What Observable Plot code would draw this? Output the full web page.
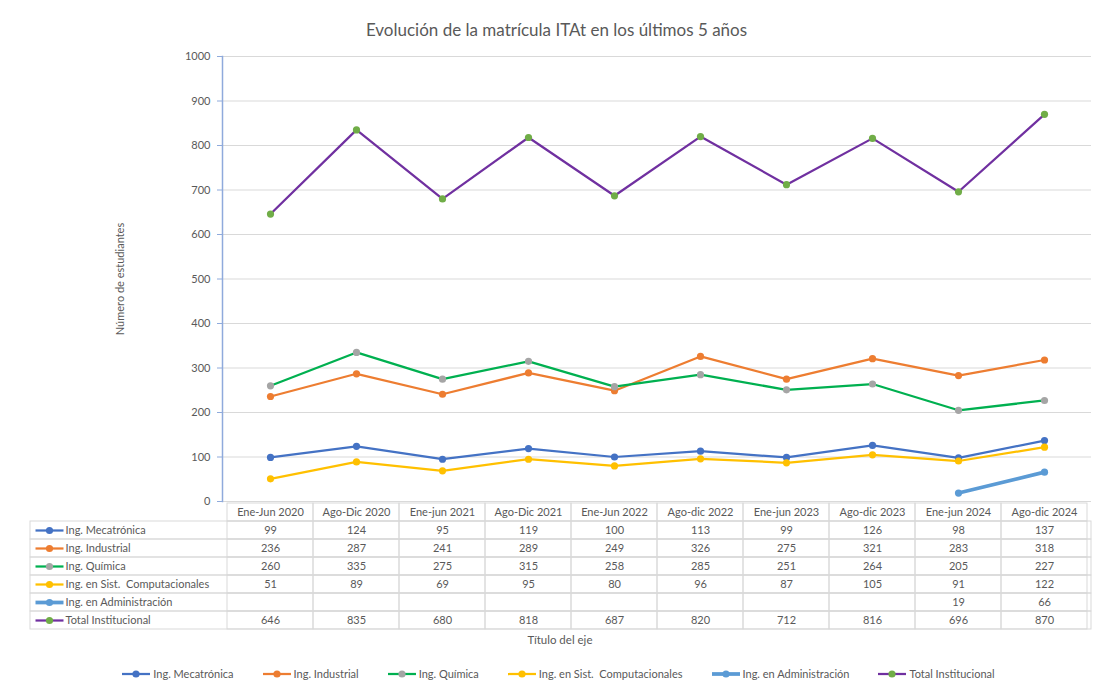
<!DOCTYPE html>
<html>
<head>
<meta charset="utf-8">
<script src="https://cdn.jsdelivr.net/npm/d3@7"></script>
<script src="https://cdn.jsdelivr.net/npm/@observablehq/plot@0.6"></script>
<style>
  html, body { margin: 0; padding: 0; background: #fff; }
  #wrap { position: relative; width: 1093px; height: 690px; background: #fff; font-family: Lato, "Open Sans", sans-serif; color: #595959; overflow: hidden; }
  #title { position: absolute; top: 19px; left: 0; width: 1113px; text-align: center; font-size: 17px; color: #595959; }
  #chart { position: absolute; top: 40px; left: 0; }
  #table { position: absolute; top: 501px; left: 0; }
  #xtitle { position: absolute; top: 633px; left: 0; width: 1120px; text-align: center; font-size: 11.5px; }
  #legend { position: absolute; top: 667px; left: 0; width: 1116px; display: flex; justify-content: center; gap: 28px; font-size: 11px; }
  #legend .item { display: flex; align-items: center; gap: 2px; white-space: pre; }
</style>
</head>
<body>
<div id="wrap">
  <div id="title">Evolución de la matrícula ITAt en los últimos 5 años</div>
  <div id="chart"></div>
  <div id="table"></div>
  <div id="xtitle">Título del eje</div>
  <div id="legend"></div>
</div>
<script>
const periods = ["Ene-Jun 2020", "Ago-Dic 2020", "Ene-jun 2021", "Ago-Dic 2021", "Ene-Jun 2022", "Ago-dic 2022", "Ene-jun 2023", "Ago-dic 2023", "Ene-jun 2024", "Ago-dic 2024"];
const seriesNames = ["Ing. Mecatrónica", "Ing. Industrial", "Ing. Química", "Ing. en Sist.  Computacionales", "Ing. en Administración", "Total Institucional"];
const mecatronica = [99, 124, 95, 119, 100, 113, 99, 126, 98, 137];
const industrial = [236, 287, 241, 289, 249, 326, 275, 321, 283, 318];
const quimica = [260, 335, 275, 315, 258, 285, 251, 264, 205, 227];
const sistemas = [51, 89, 69, 95, 80, 96, 87, 105, 91, 122];
const administracion = [null, null, null, null, null, null, null, null, 19, 66];
const total = [646, 835, 680, 818, 687, 820, 712, 816, 696, 870];
const lineColors = ["#4472C4", "#ED7D31", "#00B050", "#FFC000", "#5B9BD5", "#7030A0"];
const markerColors = ["#4472C4", "#ED7D31", "#A5A5A5", "#FFC000", "#5B9BD5", "#70AD47"];
const lineWidths = [2.25, 2.25, 2.25, 2.25, 3.75, 2.25];
const yTicks = [0, 100, 200, 300, 400, 500, 600, 700, 800, 900, 1000];

const values = [mecatronica, industrial, quimica, sistemas, administracion, total];
const series = seriesNames.map((name, i) => ({
  name, lineColor: lineColors[i], markerColor: markerColors[i], width: lineWidths[i],
  points: periods.map((p, j) => ({series: name, period: p, value: values[i][j]}))
}));
const allPoints = series.flatMap(s => s.points);
const FONT = "Lato, 'Open Sans', sans-serif";

// Main chart
const chart = Plot.plot({
  width: 1093, height: 470,
  marginLeft: 222, marginRight: 2, marginTop: 16, marginBottom: 9,
  style: {fontFamily: FONT, fontSize: "11px", color: "#595959", background: "transparent"},
  x: {type: "point", domain: periods, padding: 0.5, axis: null},
  y: {domain: [0, 1000], axis: null},
  marks: [
    Plot.gridY(yTicks, {stroke: "#D9D9D9", strokeOpacity: 1, strokeWidth: 1}),
    Plot.axisY(yTicks, {tickSize: 5, tickPadding: 7, stroke: "#8FAADC", fill: "#595959", fontSize: 11,
      tickFormat: d => String(d),
      label: "Número de estudiantes", labelAnchor: "center", labelArrow: "none", labelOffset: 106}),
    Plot.frame({anchor: "left", stroke: "#8FAADC", strokeWidth: 1.5}),
    ...series.map(s => Plot.line(s.points.filter(d => d.value != null), {
      x: "period", y: "value", stroke: s.lineColor, strokeWidth: s.width, curve: "linear"
    })),
    ...series.map(s => Plot.dot(s.points.filter(d => d.value != null), {
      x: "period", y: "value", fill: s.markerColor, r: 3.6, stroke: "none"
    }))
  ]
});
document.getElementById("chart").append(chart);

// Data table
const rowKeys = ["__header", ...seriesNames];
const cellGrid = rowKeys.flatMap(r => periods.map(p => ({row: r, period: p})));
const lineSymbol = {draw(ctx) { ctx.moveTo(-14, 0); ctx.lineTo(14, 0); }};
const table = Plot.plot({
  width: 1093, height: 131,
  marginLeft: 30, marginRight: 2, marginTop: 0, marginBottom: 0,
  style: {fontFamily: FONT, fontSize: "11px", color: "#595959", background: "transparent"},
  x: {type: "band", domain: periods, range: [222, 1091], padding: 0, axis: null},
  y: {type: "band", domain: rowKeys, range: [0.5, 130], padding: 0, axis: null},
  color: {type: "identity"},
  marks: [
    Plot.cell(seriesNames, {y: d => d, stroke: "#D9D9D9", fill: "none", strokeWidth: 1}),
    Plot.cell(cellGrid, {x: "period", y: "row", stroke: "#D9D9D9", fill: "none", strokeWidth: 1}),
    Plot.text(periods, {x: d => d, y: () => "__header", text: d => d, fill: "#595959", fontSize: 11}),
    Plot.text(allPoints.filter(d => d.value != null), {x: "period", y: "series", text: d => String(d.value), fill: "#595959", fontSize: 11}),
    Plot.dot(series, {y: "name", frameAnchor: "left", dx: 19, symbol: lineSymbol, r: 4, stroke: "lineColor", strokeWidth: "width", fill: "none"}),
    Plot.dot(series, {y: "name", frameAnchor: "left", dx: 19, r: 3.6, fill: "markerColor", stroke: "none"}),
    Plot.text(series, {y: "name", frameAnchor: "left", dx: 35, textAnchor: "start", text: "name", fill: "#595959", fontSize: 11})
  ]
});
document.getElementById("table").append(table);

// Legend
const legend = document.getElementById("legend");
series.forEach(s => {
  const item = document.createElement("div");
  item.className = "item";
  item.innerHTML = `<svg width="30" height="10"><line x1="1" x2="29" y1="5" y2="5" stroke="${s.lineColor}" stroke-width="${s.width}"/><circle cx="15" cy="5" r="3.6" fill="${s.markerColor}"/></svg><span>${s.name}</span>`;
  legend.append(item);
});
</script>
</body>
</html>
